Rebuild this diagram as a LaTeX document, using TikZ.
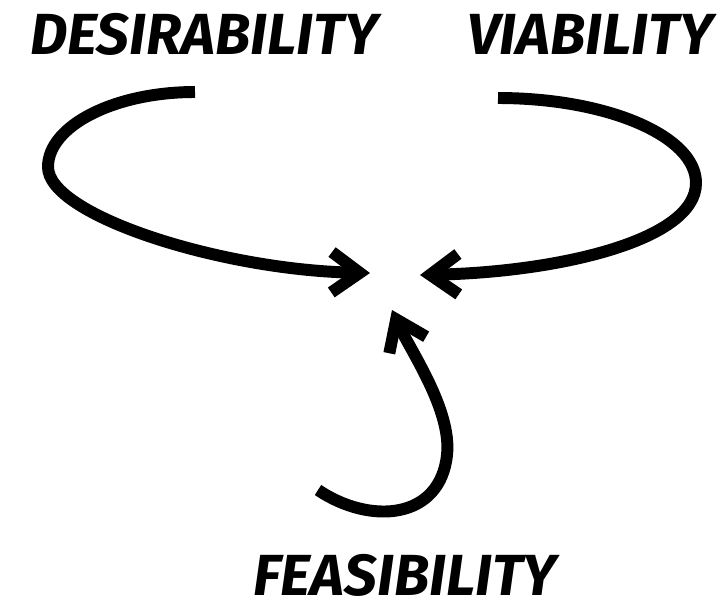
\documentclass[tikz,border=0pt]{standalone}
\usepackage{fontspec}
\setmainfont{Fira Sans}
\usetikzlibrary{arrows.meta}
\tikzset{bigarrow/.style={line width=6.8pt, -{Straight Barb[sharp, length=16pt, width=23pt]}},
         lbl/.style={inner sep=0pt, font=\fontsize{33}{33}\selectfont\bfseries\itshape}}

\begin{document}
\begin{tikzpicture}[x=0.02cm, y=-0.02cm]
\useasboundingbox (0,0) rectangle (724,609);

\node[lbl] (desir) at (204,34) {DESIRABILITY};
\node[lbl] (viab) at (590,34) {VIABILITY};
\node[lbl] (feas) at (405,575) {FEASIBILITY};

% desirability
\draw[bigarrow] (195,92) .. controls (114,92) and (48,126) .. (48,167)
  .. controls (48,215) and (220,270) .. (370,273);
% viability
\draw[bigarrow] (498,98) .. controls (607,98) and (696,136) .. (696,183)
  .. controls (696,240) and (560,272) .. (420,275);
% feasibility
\draw[bigarrow] (318,490) .. controls (370,525) and (440,520) .. (447,455)
  .. controls (452,410) and (410,350) .. (392,310);

\end{tikzpicture}
\end{document}
